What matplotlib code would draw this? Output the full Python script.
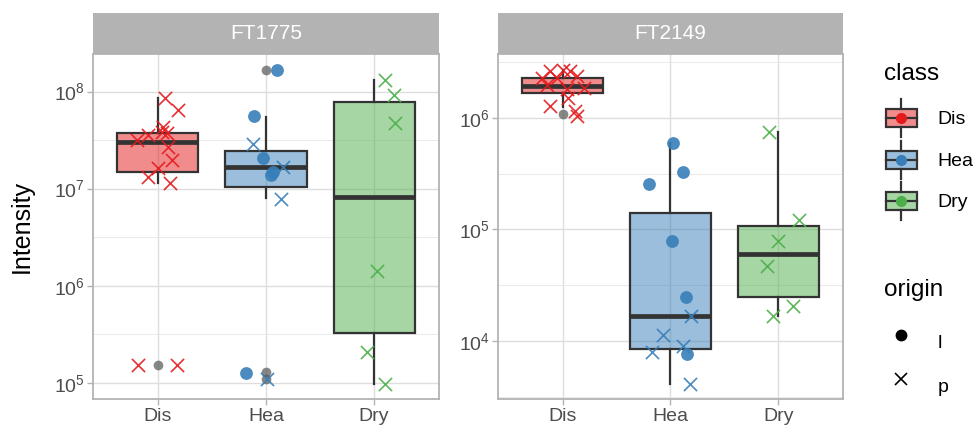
import matplotlib
matplotlib.use('Agg')
import matplotlib.pyplot as plt
import matplotlib.ticker as mticker
from matplotlib.patches import Rectangle
from matplotlib.lines import Line2D
from matplotlib.legend_handler import HandlerBase
from matplotlib.colors import to_rgba
import numpy as np

plt.rcParams['font.family'] = ['Liberation Sans', 'DejaVu Sans']
plt.rcParams['mathtext.fontset'] = 'custom'
plt.rcParams['mathtext.rm'] = 'Liberation Sans'
plt.rcParams['mathtext.it'] = 'Liberation Sans:italic'
plt.rcParams['mathtext.bf'] = 'Liberation Sans:bold'

# ---------------- data ----------------
classes = ['Dis', 'Hea', 'Dry']
class_colors = ['#E41A1C', '#377EB8', '#4DAF4A']
origins = ['l', 'p']
panel_titles = ['FT1775', 'FT2149']

# box statistics (log-scale boxplot)
ft1775_q1 = [1.49e7, 1.05e7, 3.29e5]
ft1775_med = [3.05e7, 1.66e7, 8.24e6]
ft1775_q3 = [3.72e7, 2.44e7, 7.78e7]
ft1775_whislo = [1.14e7, 7.94e6, 9.8e4]
ft1775_whishi = [8.55e7, 5.52e7, 1.32e8]
ft1775_fliers = [[1.53e5], [1.68e8, 1.29e5, 1.10e5], []]

ft2149_q1 = [1.65e6, 8.55e3, 2.51e4]
ft2149_med = [1.94e6, 1.70e4, 6.03e4]
ft2149_q3 = [2.27e6, 1.40e5, 1.07e5]
ft2149_whislo = [1.26e6, 4.18e3, 1.67e4]
ft2149_whishi = [2.69e6, 5.90e5, 7.46e5]
ft2149_fliers = [[1.07e6], [], []]

# individual samples
ft1775_class = ['Dis'] * 14 + ['Hea'] * 10 + ['Dry'] * 6
ft1775_value = [8.55e7, 6.47e7, 4.36e7, 3.86e7, 3.72e7, 3.57e7, 3.18e7,
                2.70e7, 1.97e7, 1.62e7, 1.33e7, 1.14e7, 1.53e5, 1.53e5,
                1.68e8, 5.61e7, 2.86e7, 2.06e7, 1.38e7, 1.49e7, 1.66e7,
                7.82e6, 1.27e5, 1.10e5,
                1.32e8, 9.25e7, 4.79e7, 1.42e6, 2.05e5, 9.8e4]
ft1775_origin = ['p'] * 14 + ['l', 'l', 'p', 'l', 'l', 'l', 'p', 'p', 'l', 'p'] + ['p'] * 6
ft1775_jitter = [0.067, 0.19, 0.05, 0.035, 0.08, -0.088, -0.195,
                 0.096, 0.127, 0.004, -0.088, 0.112, -0.18, 0.18,
                 0.10, -0.108, -0.117, -0.03, 0.043, 0.068, 0.155,
                 0.136, -0.188, 0.006,
                 0.10, 0.18, 0.194, 0.025, -0.068, 0.10]

ft2149_class = ['Dis'] * 13 + ['Hea'] * 11 + ['Dry'] * 6
ft2149_value = [2.60e6, 2.69e6, 2.60e6, 2.27e6, 2.27e6, 2.35e6, 1.98e6,
                1.85e6, 1.79e6, 1.51e6, 1.27e6, 1.15e6, 1.04e6,
                5.90e5, 3.24e5, 2.56e5, 7.85e4, 2.48e4, 1.70e4, 1.13e4,
                9.16e3, 7.98e3, 7.73e3, 4.18e3,
                7.46e5, 1.21e5, 7.85e4, 4.71e4, 2.05e4, 1.67e4]
ft2149_origin = ['p'] * 13 + ['l', 'l', 'l', 'l', 'l', 'p', 'p', 'p', 'p', 'l', 'p'] + ['p'] * 6
ft2149_jitter = [-0.118, 0.006, 0.068, -0.195, -0.056, 0.13, -0.148,
                 0.2, 0.037, 0.052, -0.118, 0.114, 0.13,
                 0.026, 0.119, -0.197, 0.011, 0.141, 0.187, -0.067,
                 0.119, -0.174, 0.15, 0.181,
                 -0.089, 0.195, -0.006, -0.102, 0.139, -0.046]

panels = [
    dict(title=panel_titles[0], q1=ft1775_q1, med=ft1775_med, q3=ft1775_q3,
         whislo=ft1775_whislo, whishi=ft1775_whishi, fliers=ft1775_fliers,
         cls=ft1775_class, val=ft1775_value, org=ft1775_origin, jit=ft1775_jitter),
    dict(title=panel_titles[1], q1=ft2149_q1, med=ft2149_med, q3=ft2149_q3,
         whislo=ft2149_whislo, whishi=ft2149_whishi, fliers=ft2149_fliers,
         cls=ft2149_class, val=ft2149_value, org=ft2149_origin, jit=ft2149_jitter),
]

# ---------------- styling ----------------
W, H = 978, 430
fig = plt.figure(figsize=(W / 100, H / 100), dpi=100)
fig.patch.set_facecolor('white')

EDGE = '#333333'
GRID = '#DEDEDE'
BORDER = '#B3B3B3'
TICKTXT = '#4D4D4D'
panel_px = [(93, 439), (498, 843)]
top_px, bot_px, strip_top_px = 54, 399.3, 13

axes = []
for (x0, x1), p in zip(panel_px, panels):
    ax = fig.add_axes([x0 / W, (H - bot_px) / H, (x1 - x0) / W, (bot_px - top_px) / H])
    axes.append(ax)
    stats = []
    for i in range(3):
        stats.append(dict(q1=p['q1'][i], med=p['med'][i], q3=p['q3'][i],
                          whislo=p['whislo'][i], whishi=p['whishi'][i],
                          fliers=p['fliers'][i]))
    bp = ax.bxp(stats, positions=[1, 2, 3], widths=0.75, patch_artist=True,
                showcaps=False, showfliers=True,
                boxprops=dict(edgecolor=EDGE, linewidth=1.6),
                whiskerprops=dict(color=EDGE, linewidth=1.6),
                medianprops=dict(color=EDGE, linewidth=3.4, solid_capstyle='butt'),
                flierprops=dict(marker='o', markerfacecolor='#555555',
                                markeredgecolor='none', markersize=7, alpha=0.7))
    for patch, c in zip(bp['boxes'], class_colors):
        patch.set_facecolor(to_rgba(c, 0.5))

    cls = np.array(p['cls']); val = np.array(p['val'])
    org = np.array(p['org']); jit = np.array(p['jit'])
    for ci, (cname, col) in enumerate(zip(classes, class_colors)):
        for o in origins:
            m = (cls == cname) & (org == o)
            if not m.any():
                continue
            xs = ci + 1 + jit[m]
            if o == 'l':
                ax.scatter(xs, val[m], marker='o', s=85, color=col, alpha=0.9,
                           linewidths=0, zorder=4)
            else:
                ax.scatter(xs, val[m], marker='x', s=90, color=col, alpha=0.9,
                           linewidths=1.2, zorder=4)

    ax.set_yscale('log')
    allv = np.log10(np.concatenate([val] + [np.array(f) for f in p['fliers'] if len(f)]))
    lo, hi = allv.min(), allv.max()
    pad = 0.05 * (hi - lo)
    ax.set_ylim(10 ** (lo - pad), 10 ** (hi + pad))
    ax.set_xlim(0.4, 3.6)
    ax.set_xticks([1, 2, 3])
    ax.set_xticklabels(classes)
    ax.yaxis.set_major_locator(mticker.LogLocator(base=10, numticks=20))
    ax.yaxis.set_major_formatter(mticker.LogFormatterSciNotation())
    dec = np.arange(np.floor(lo - 1), np.ceil(hi + 1))
    ax.yaxis.set_minor_locator(mticker.FixedLocator(10 ** (dec + 0.5)))
    ax.yaxis.set_minor_formatter(mticker.NullFormatter())
    ax.grid(True, which='major', color=GRID, linewidth=1.0)
    ax.grid(True, which='minor', axis='y', color='#E6E6E6', linewidth=0.6)
    ax.set_axisbelow(True)
    ax.tick_params(axis='both', which='major', length=4, width=1, color=BORDER,
                   labelcolor=TICKTXT, labelsize=14, pad=2)
    ax.tick_params(axis='y', which='minor', length=0)
    for s in ax.spines.values():
        s.set_color(BORDER)
        s.set_linewidth(1.3)

    sax = fig.add_axes([x0 / W, (H - top_px) / H, (x1 - x0) / W, (top_px - strip_top_px) / H])
    sax.set_facecolor('#B3B3B3')
    sax.set_xticks([]); sax.set_yticks([])
    for s in sax.spines.values():
        s.set_visible(False)
    sax.text(0.5, 0.5, p['title'], color='white', fontsize=15,
             ha='center', va='center', transform=sax.transAxes)

axes[0].set_ylabel('Intensity', fontsize=18, color='black')
axes[0].yaxis.set_label_coords((34 - 93) / (439 - 93), 0.5)


# ---------------- legends ----------------
class BoxKey:
    def __init__(self, color):
        self.color = color


class HandlerBoxKey(HandlerBase):
    def create_artists(self, legend, orig_handle, xdescent, ydescent, width, height,
                       fontsize, trans):
        x0, y0 = -xdescent, -ydescent
        cx, cy = x0 + width / 2, y0 + height / 2
        bh = height * 0.46
        rect = Rectangle((x0 + 1.5, cy - bh / 2), width - 3, bh,
                         facecolor=to_rgba(orig_handle.color, 0.5),
                         edgecolor=EDGE, linewidth=1.6, transform=trans)
        wt = Line2D([cx, cx], [cy + bh / 2, y0 + height * 0.98], color=EDGE,
                    linewidth=1.6, transform=trans)
        wb = Line2D([cx, cx], [cy - bh / 2, y0 + height * 0.02], color=EDGE,
                    linewidth=1.6, transform=trans)
        md = Line2D([x0 + 1.5, x0 + width - 1.5], [cy, cy], color=EDGE,
                    linewidth=1.6, transform=trans)
        dot = Line2D([cx], [cy], marker='o', markersize=7, color=orig_handle.color,
                     linestyle='none', transform=trans)
        return [rect, wt, wb, md, dot]


class_handles = [BoxKey(c) for c in class_colors]
leg1 = fig.legend(class_handles, classes, handler_map={BoxKey: HandlerBoxKey()},
                  title='class', loc='upper left',
                  bbox_to_anchor=(884 / W, 1 - 63 / H), frameon=False,
                  fontsize=14, title_fontsize=17.5, handlelength=1.8,
                  handleheight=2.75, labelspacing=0.1, handletextpad=0.95,
                  borderpad=0, borderaxespad=0, alignment='left')
leg1._legend_box.sep = 9.8

origin_handles = [Line2D([], [], marker='o', color='black', linestyle='none', markersize=7.5),
                  Line2D([], [], marker='x', color='black', linestyle='none', markersize=8,
                         markeredgewidth=1.2)]
leg2 = fig.legend(origin_handles, origins, title='origin', loc='upper left',
                  bbox_to_anchor=(884 / W, 1 - 279 / H), frameon=False,
                  fontsize=14, title_fontsize=17.5, handlelength=1.8,
                  handleheight=2.85, labelspacing=0.15, handletextpad=0.95,
                  borderpad=0, borderaxespad=0, alignment='left')
leg2._legend_box.sep = 15.0

fig.savefig('out.png', dpi=100)
